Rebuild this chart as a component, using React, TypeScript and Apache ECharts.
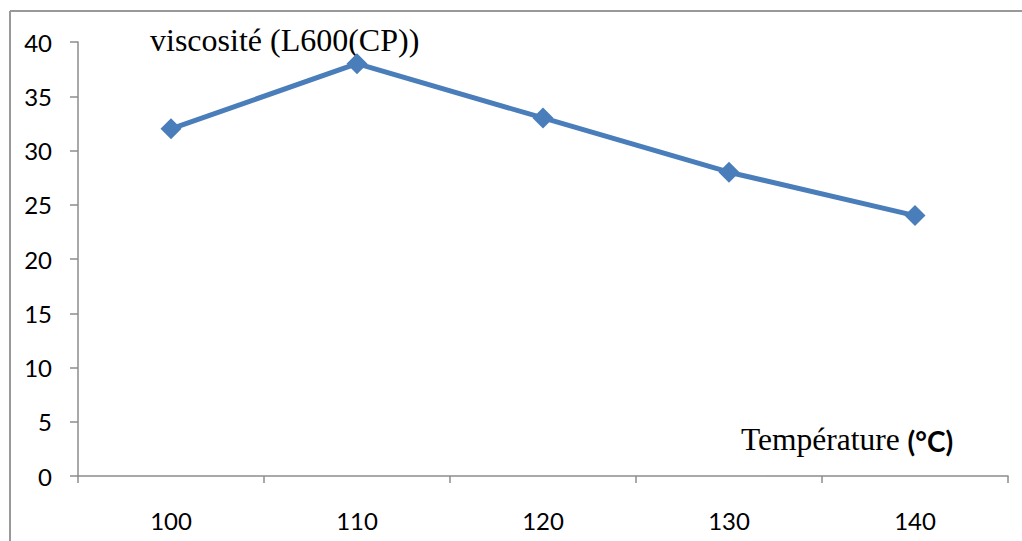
import React, { useEffect, useRef } from "react";
import * as echarts from "echarts";

const categories = ["100", "110", "120", "130", "140"];
const viscosity = [32, 38, 33, 28, 24];
const yTitle = "viscosité (L600(CP))";
const xTitle = "Température ";
const xUnit = "(°C)";

export default function App() {
  const ref = useRef<HTMLDivElement>(null);
  useEffect(() => {
    const chart = echarts.init(ref.current!, undefined, { renderer: "svg" });
    const axisColor = "#8c8c8c";
    const sans = "Lato, 'Open Sans', sans-serif";
    const serif = "'Liberation Serif', 'Times New Roman', serif";
    chart.setOption({
      animation: false,
      backgroundColor: "#ffffff",
      grid: { left: 78, top: 42, right: 14, bottom: 65, containLabel: false },
      xAxis: {
        type: "category",
        data: categories,
        boundaryGap: true,
        axisLine: { lineStyle: { color: axisColor, width: 1.5 } },
        axisTick: { show: true, length: 7, lineStyle: { color: axisColor, width: 1.5 } },
        axisLabel: { color: "#000", fontSize: 24, fontFamily: sans, margin: 32 },
        splitLine: { show: false },
      },
      yAxis: {
        type: "value",
        min: 0,
        max: 40,
        interval: 5,
        axisLine: { show: true, lineStyle: { color: axisColor, width: 1.5 } },
        axisTick: { show: true, length: 8, lineStyle: { color: axisColor, width: 1.5 } },
        axisLabel: { color: "#000", fontSize: 24, fontFamily: sans, margin: 26 },
        splitLine: { show: false },
      },
      series: [
        {
          type: "line",
          data: viscosity,
          symbol: "diamond",
          symbolSize: 21,
          lineStyle: { color: "#4a7ebb", width: 5 },
          itemStyle: { color: "#4a7ebb" },
        },
      ],
      graphic: [
        { type: "line", shape: { x1: 10, y1: 11, x2: 1022, y2: 11 }, style: { stroke: "#999", lineWidth: 2 } },
        { type: "line", shape: { x1: 10, y1: 11, x2: 10, y2: 541 }, style: { stroke: "#999", lineWidth: 2 } },
        {
          type: "text",
          left: 150,
          top: 24,
          style: { text: yTitle, fontSize: 32, fontFamily: serif, fill: "#000" },
        },
        {
          type: "text",
          left: 741,
          top: 423,
          style: {
            text: "{a|" + xTitle + "}{b|" + xUnit + "}",
            rich: {
              a: { fontSize: 31.5, fontFamily: serif, fill: "#000", verticalAlign: "bottom" },
              b: { fontSize: 28, fontWeight: "bold", fontFamily: sans, fill: "#000", verticalAlign: "bottom" },
            },
          },
        },
      ],
    });
    return () => chart.dispose();
  }, []);
  return (
    <div
      ref={ref}
      style={{ position: "fixed", left: 0, top: 0, width: 1022, height: 541 }}
    />
  );
}
